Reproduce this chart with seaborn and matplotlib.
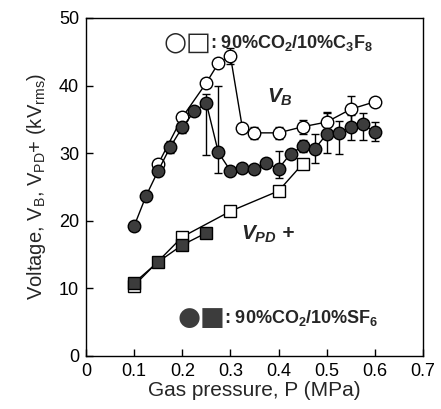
import numpy as np
import pandas as pd
import matplotlib
matplotlib.use("Agg")
import matplotlib.pyplot as plt
import seaborn as sns

# --- data ---
p_sf6_vb = [0.1, 0.125, 0.15, 0.175, 0.2, 0.225, 0.25, 0.275, 0.3, 0.325, 0.35,
            0.375, 0.4, 0.425, 0.45, 0.475, 0.5, 0.525, 0.55, 0.575, 0.6]
v_sf6_vb = [19.2, 23.7, 27.4, 30.9, 33.8, 36.2, 37.4, 30.1, 27.4, 27.8, 27.7,
            28.5, 27.7, 29.9, 31.0, 30.6, 32.8, 33.0, 33.9, 34.3, 33.1]
err_lo_sf6 = [0, 0, 0, 0.9, 0.8, 0, 7.7, 3.1, 0, 0, 0,
              0, 1.4, 0, 0.9, 2.1, 2.8, 3.1, 2.0, 2.4, 1.3]
err_hi_sf6 = [0, 0, 0, 0.9, 0.8, 0, 1.4, 9.9, 0, 0, 0,
              0, 2.6, 0, 0.9, 2.3, 3.1, 1.7, 1.8, 1.6, 1.5]

p_c3f8_vb = [0.15, 0.2, 0.25, 0.275, 0.3, 0.325, 0.35, 0.4, 0.45, 0.5, 0.55, 0.6]
v_c3f8_vb = [28.4, 35.3, 40.4, 43.3, 44.4, 33.7, 33.0, 33.0, 33.9, 34.6, 36.5, 37.6]
err_c3f8 = [0, 0, 0.6, 0, 1.2, 0, 0.9, 0.9, 1.0, 1.5, 2.0, 0]

p_c3f8_pd = [0.1, 0.2, 0.3, 0.4, 0.45]
v_c3f8_pd = [10.4, 17.6, 21.4, 24.4, 28.4]

p_sf6_pd = [0.1, 0.15, 0.2, 0.25]
v_sf6_pd = [10.8, 13.9, 16.4, 18.2]

x_ticks = [0, 0.1, 0.2, 0.3, 0.4, 0.5, 0.6, 0.7]
x_ticklabels = ["0", "0.1", "0.2", "0.3", "0.4", "0.5", "0.6", "0.7"]
y_ticks = [0, 10, 20, 30, 40, 50]

sns.set_theme(style="ticks")
plt.rcParams['font.family'] = ['Liberation Sans', 'DejaVu Sans']
plt.rcParams['mathtext.fontset'] = 'custom'
plt.rcParams['mathtext.rm'] = 'Liberation Sans'
plt.rcParams['mathtext.it'] = 'Liberation Sans:italic:bold'
plt.rcParams['mathtext.bf'] = 'Liberation Sans:bold'

fig = plt.figure(figsize=(4.41, 4.09), dpi=100)
ax = fig.add_axes([0.195, 0.130, 0.764, 0.826])

fill = "#3c3c3c"

# error bars
ax.errorbar(p_sf6_vb, v_sf6_vb, yerr=[err_lo_sf6, err_hi_sf6], fmt='none',
            ecolor='black', elinewidth=1.0, capsize=3, capthick=1.0, zorder=2)
ax.errorbar(p_c3f8_vb, v_c3f8_vb, yerr=err_c3f8, fmt='none',
            ecolor='black', elinewidth=1.0, capsize=3, capthick=1.0, zorder=2)

df1 = pd.DataFrame({"p": p_c3f8_pd, "v": v_c3f8_pd})
sns.lineplot(data=df1, x="p", y="v", ax=ax, estimator=None, sort=False,
             color="black", linewidth=1.0, marker="s", markersize=8,
             markerfacecolor="white", markeredgecolor="black", markeredgewidth=1.0, zorder=3)
df2 = pd.DataFrame({"p": p_sf6_pd, "v": v_sf6_pd})
sns.lineplot(data=df2, x="p", y="v", ax=ax, estimator=None, sort=False,
             color="black", linewidth=1.0, marker="s", markersize=8,
             markerfacecolor=fill, markeredgecolor="black", markeredgewidth=1.0, zorder=4)
df3 = pd.DataFrame({"p": p_c3f8_vb, "v": v_c3f8_vb})
sns.lineplot(data=df3, x="p", y="v", ax=ax, estimator=None, sort=False,
             color="black", linewidth=1.0, marker="o", markersize=9,
             markerfacecolor="white", markeredgecolor="black", markeredgewidth=1.0, zorder=3)
df4 = pd.DataFrame({"p": p_sf6_vb, "v": v_sf6_vb})
sns.lineplot(data=df4, x="p", y="v", ax=ax, estimator=None, sort=False,
             color="black", linewidth=1.0, marker="o", markersize=9,
             markerfacecolor=fill, markeredgecolor="black", markeredgewidth=1.0, zorder=4)

ax.set_xlim(0, 0.7)
ax.set_ylim(0, 50)
ax.set_xticks(x_ticks)
ax.set_xticklabels(x_ticklabels)
ax.set_yticks(y_ticks)
ax.tick_params(direction='in', length=5, width=1, labelsize=13, colors='black',
               top=False, right=False, pad=5)
for s in ax.spines.values():
    s.set_visible(True)
    s.set_linewidth(1.0)
    s.set_color('black')

ax.set_xlabel("Gas pressure, P (MPa)", fontsize=15, labelpad=1)
ax.set_ylabel(r"Voltage, V$_\mathrm{B}$, V$_\mathrm{PD}$+ (kV$_\mathrm{rms}$)", fontsize=14.5, labelpad=8)

ax.text(0.376, 38.3, r"$V_{B}$", fontsize=15, ha='left', va='center')
ax.text(0.322, 18.0, r"$V_{PD}$" + " +", fontsize=15, ha='left', va='center',
        fontweight='bold', fontstyle='italic')

ax.text(0.160, 46.3, "○□", fontsize=19, ha='left', va='center', family='DejaVu Sans')
ax.text(0.257, 46.3, r": 90%CO$_\mathbf{2}$/10%C$_\mathbf{3}$F$_\mathbf{8}$", fontsize=13,
        ha='left', va='center', fontweight='bold')
ax.text(0.190, 5.6, "●■", fontsize=19, ha='left', va='center', family='DejaVu Sans', color=fill)
ax.text(0.287, 5.6, r": 90%CO$_\mathbf{2}$/10%SF$_\mathbf{6}$", fontsize=13,
        ha='left', va='center', fontweight='bold')

fig.savefig("out.png", dpi=100)
